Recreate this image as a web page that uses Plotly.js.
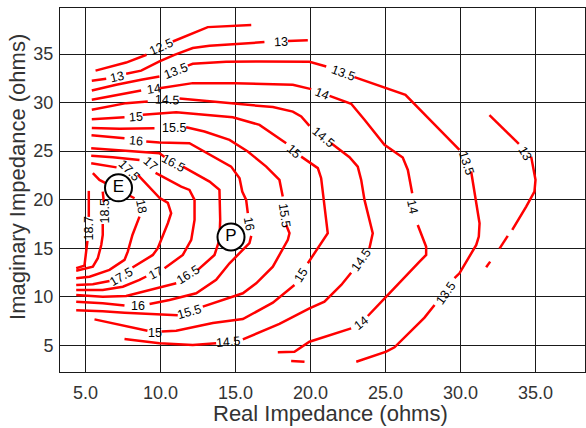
<!DOCTYPE html>
<html>
<head>
<meta charset="utf-8">
<script src="https://cdn.plot.ly/plotly-3.0.1.min.js"></script>
<style>html,body{margin:0;padding:0;background:#fff;}#chart{width:586px;height:428px;}</style>
</head>
<body>
<div id="chart"></div>
<script>
// Contour levels (gain contours); null = break in line (label gap)
const levels = [12.5, 13, 13.5, 14, 14.5, 15, 15.5, 16, 16.5, 17, 17.5, 18, 18.5, 18.7];

const x_125 = [5.67, 7.71, 9.07, null, 10.82, 12.15, 13.15, 16.05];
const y_125 = [33.3, 34.13, 34.93, null, 36.3, 37.17, 37.78, 38.0];

const x_13 = [5.42, 6.38, null, 7.71, 8.71, 9.93, 10.93, 12.15, 13.27, 16.93, null, 18.49, 19.82, null,
              31.93, 33.89, null, 34.71, 35.0, 34.93, 34.38, 33.45, null, 33.15, 32.6, null, 31.98, 31.71];
const y_13 = [32.25, 32.45, null, 32.97, 33.3, 34.24, 34.93, 35.62, 35.86, 36.24, null, 36.34, 36.44, null,
              28.71, 25.75, null, 24.44, 22.05, 20.84, 19.29, 16.89, null, 16.27, 14.96, null, 13.62, 13.04];

const x_135 = [5.42, 7.05, 8.71, 9.93, null, 11.82, 12.15, 14.38, 16.6, 19.93, 21.05, null,
               22.93, 24.93, 26.33, 29.93, null, 30.71, 31.27, 31.22, 31.05, 29.93, 29.6, null,
               28.27, 27.6, 25.6, 25.05, 23.05];
const y_135 = [31.25, 31.84, 32.35, 32.69, null, 33.82, 34.0, 34.2, 34.24, 34.2, 33.72, null,
               32.63, 31.6, 30.8, 25.13, null, 22.9, 17.58, 16.2, 15.34, 12.42, 11.91, null,
               9.16, 7.85, 4.79, 4.34, 3.31];

const x_14 = [5.42, 8.71, null, 9.93, 12.15, 14.93, 18.82, 20.05, null,
              21.27, 22.71, 23.6, 24.93, 26.15, 26.49, 26.78, null,
              27.15, 27.71, 27.71, 27.27, 25.05, 23.82, null,
              22.71, 19.93, 18.93, 17.82, null, 18.71, 19.6];
const y_14 = [30.29, 31.25, null, 31.49, 32.01, 32.01, 31.84, 31.39, null,
              30.7, 29.88, 28.23, 25.65, 24.34, 23.07, 20.67, null,
              17.4, 15.16, 14.31, 13.62, 10.01, 8.02, null,
              6.75, 5.37, 4.34, 4.28, null, 3.38, 3.31];

const x_145 = [5.42, 7.71, 9.15, null, 11.27, 14.38, 17.49, 18.82, 19.38, 19.93, null,
               21.38, 22.6, 23.15, 23.38, 23.6, 24.15, 23.93, null,
               22.71, 22.05, 20.93, 19.93, 17.93, 15.49, null,
               13.71, 12.15, 9.93, 7.6];
const y_145 = [29.26, 29.95, 30.11, null, 30.42, 29.95, 29.54, 29.08, 28.57, 27.61, null,
               25.82, 24.38, 23.41, 22.04, 19.98, 16.55, 15.0, null,
               12.48, 11.22, 9.5, 8.81, 7.2, 5.62, null,
               5.21, 5.03, 5.21, 5.65];

const x_15 = [5.42, 7.6, null, 8.82, 11.05, 14.82, 16.6, 18.38, null,
              19.38, 20.49, 20.71, 21.15, 19.82, null,
              18.93, 17.93, 17.49, 15.49, 13.49, 11.05, 10.07, null,
              9.13, 7.27, 5.6];
const y_15 = [28.3, 28.5, null, 28.74, 29.02, 28.5, 27.71, 25.82, null,
              24.44, 23.25, 22.22, 16.55, 13.45, null,
              11.22, 10.01, 9.4, 7.7, 7.3, 6.5, 6.42, null,
              6.5, 7.08, 7.67];

const x_155 = [5.42, 7.27, 9.6, null, 11.71, 12.93, 14.6, 15.82, 17.05, 17.93, 18.15, null,
               18.38, 18.6, 18.49, 17.49, 16.38, 15.49, 12.82, null,
               11.15, 9.93, 7.6, 6.15, 4.38];
const y_155 = [27.4, 27.3, 27.37, null, 27.47, 27.02, 26.16, 24.96, 23.41, 22.04, 20.32, null,
               17.4, 16.55, 15.86, 13.1, 11.39, 10.36, 8.98, null,
               8.1, 8.17, 8.35, 8.5, 8.6];

const x_16 = [5.4, 7.6, null, 9.05, 9.93, 11.93, 13.15, 14.71, 15.27, 15.45, 15.71, 15.82, null,
              16.05, 15.93, 14.6, 13.71, 12.38, 10.6, 9.27, null,
              7.6, 6.15, 4.38];
const y_16 = [26.63, 26.34, null, 25.99, 25.89, 25.82, 24.79, 23.41, 22.22, 20.84, 19.98, 18.61, null,
              16.27, 15.52, 13.45, 11.74, 10.36, 9.67, 9.26, null,
              9.09, 9.33, 9.5];

const x_165 = [5.38, 8.38, 9.93, 10.27, null, 11.49, 13.27, 13.93, 13.98, 13.93, 13.82, 13.6, 12.49, null,
               11.05, 9.27, 7.71, 6.15, 4.38];
const y_165 = [25.31, 24.96, 24.79, 24.41, null, 23.41, 21.87, 21.01, 17.92, 15.86, 15.34, 14.31, 12.77, null,
               11.39, 10.7, 10.08, 10.01, 10.19];

const x_17 = [5.38, 6.82, 8.6, null, 9.67, 11.38, 11.93, 12.27, 12.27, 12.05, 11.49, 10.27, null,
              9.05, 8.6, 7.49, 6.15, 4.38];
const y_17 = [24.52, 24.38, 24.1, null, 22.76, 21.35, 21.01, 19.98, 17.92, 15.86, 14.31, 12.94, null,
              12.09, 11.73, 11.04, 10.7, 10.7];

const x_175 = [5.38, 6.38, 7.07, null, 8.49, 9.93, 10.49, 10.71, 10.49, 10.05, 9.82, 9.49, 8.6, 8.13, null,
               6.6, 5.49, 4.38];
const y_175 = [23.76, 23.48, 23.33, null, 22.56, 20.19, 19.67, 18.61, 17.58, 15.86, 15.0, 14.31, 13.45, 13.02, null,
               11.63, 11.29, 11.22];

const x_18 = [5.49, 5.93, 7.2, 8.27, null, 8.6, 8.13, 7.82, 7.6, 6.6, 5.27, 4.38];
const y_18 = [22.73, 22.04, 21.01, 20.15, null, 18.26, 16.37, 14.65, 13.8, 12.77, 12.07, 11.91];

const x_185 = [6.15, 6.22, null, 6.15, 6.15, 6.05, 5.82, 5.49, 4.93, 4.38];
const y_185 = [20.84, 19.77, null, 17.5, 16.37, 15.34, 13.97, 13.1, 12.87, 12.69];

const x_187 = [5.22, 5.22, null, 5.13, 5.05, 5.0, 4.93, 4.38];
const y_187 = [20.91, 18.23, null, 15.75, 14.82, 13.79, 13.21, 12.94];

const contourX = [x_125, x_13, x_135, x_14, x_145, x_15, x_155, x_16, x_165, x_17, x_175, x_18, x_185, x_187];
const contourY = [y_125, y_13, y_135, y_14, y_145, y_15, y_155, y_16, y_165, y_17, y_175, y_18, y_185, y_187];

// Contour labels
const labelText = ["12.5","13","13","13","13.5","13.5","13.5","13.5","14","14","14","14",
                   "14.5","14.5","14.5","14.5","15","15","15","15","15.5","15.5","15.5",
                   "16","16","16","16.5","16.5","17","17","17.5","17.5","18","18.5","18.7"];
const labelX = [10.05, 7.13, 18.05, 34.27, 11.05, 22.15, 30.38, 29.05, 9.55, 20.78, 26.82, 23.38,
                10.42, 20.82, 23.38, 14.49, 8.38, 18.93, 19.38, 9.6, 10.89, 18.27, 11.93,
                8.38, 15.9, 8.49, 10.82, 11.82, 9.33, 9.71, 7.87, 7.38, 8.73, 6.27, 5.2];
const labelY = [35.78, 32.69, 36.24, 24.79, 33.21, 33.04, 23.76, 10.36, 31.39, 30.88, 19.29, 7.33,
                30.29, 26.44, 13.79, 5.34, 28.57, 24.96, 12.25, 6.3, 27.37, 18.44, 8.48,
                26.01, 17.5, 9.08, 23.74, 12.25, 23.64, 12.42, 23.02, 12.07, 19.26, 18.74, 16.99];
const labelAngle = [-24, -13, -3, 60, -21, 20, 72, -55, -8, 22, 78, -38,
                    2, 40, -55, -5, -4, 42, -58, 0, 0, 82, -16,
                    5, 80, 0, 28, -32, 42, -28, 45, -30, 78, -90, -90];

// Marked points
const pointName = ["E", "P"];
const pointX = [7.2, 14.7];
const pointY = [21.22, 16.16];

const xTicks = [5, 10, 15, 20, 25, 30, 35];
const yTicks = [5, 10, 15, 20, 25, 30, 35];

const FONT = 'Liberation Sans, Arial, sans-serif';

const traces = levels.map((lv, i) => ({
  type: 'scatter', mode: 'lines', x: contourX[i], y: contourY[i], name: String(lv),
  line: {color: '#ff0000', width: 2.5}, connectgaps: false, hoverinfo: 'skip', showlegend: false
}));
traces.push({
  type: 'scatter', mode: 'markers+text', x: pointX, y: pointY, text: pointName,
  textposition: 'middle center',
  textfont: {family: FONT, size: 17, color: '#000'},
  marker: {size: 27, color: '#ffffff', line: {color: '#000000', width: 2}},
  showlegend: false, hoverinfo: 'skip'
});

const annotations = labelText.map((t, i) => ({
  x: labelX[i], y: labelY[i], xref: 'x', yref: 'y', text: t, showarrow: false,
  textangle: labelAngle[i], font: {family: FONT, size: 12.5, color: '#000'}
}));
// Axis titles
annotations.push({
  xref: 'paper', yref: 'paper', x: 0.516, y: -0.113, xanchor: 'center', yanchor: 'middle',
  text: 'Real Impedance (ohms)', showarrow: false, font: {family: FONT, size: 22, color: '#333'}
});
annotations.push({
  xref: 'paper', yref: 'paper', x: -0.08, y: 0.536, xanchor: 'center', yanchor: 'middle',
  text: 'Imaginary Impedance (ohms)', textangle: -90, showarrow: false, font: {family: FONT, size: 22, color: '#333'}
});

const axisCommon = {
  showgrid: true, gridcolor: '#1a1a1a', gridwidth: 1, zeroline: false,
  showline: true, linecolor: '#1a1a1a', linewidth: 1, mirror: true,
  ticks: '', tickfont: {family: FONT, size: 18, color: '#333'}
};

const layout = {
  width: 586, height: 428,
  margin: {l: 60, r: 1, t: 8, b: 56},
  paper_bgcolor: '#fff', plot_bgcolor: '#fff',
  xaxis: Object.assign({}, axisCommon, {
    range: [3.3, 38.3], tickvals: xTicks, tickformat: '.1f', ticklabelstandoff: 4
  }),
  yaxis: Object.assign({}, axisCommon, {
    range: [2.25, 39.75], tickvals: yTicks, ticklabelstandoff: 2
  }),
  annotations: annotations,
  showlegend: false
};

Plotly.newPlot('chart', traces, layout, {staticPlot: true, displayModeBar: false});
</script>
</body>
</html>
